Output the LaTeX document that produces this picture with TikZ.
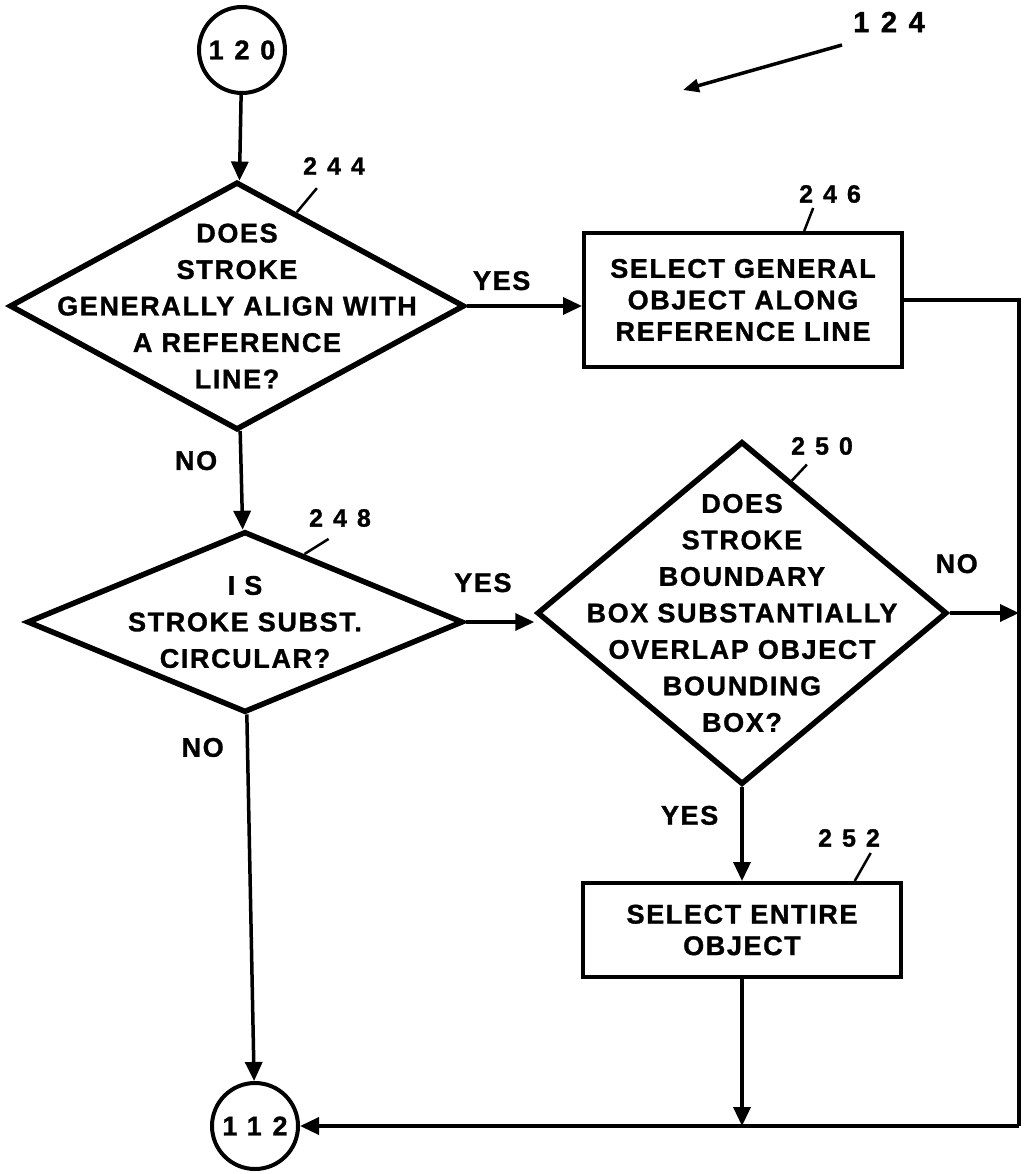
\documentclass[tikz,border=0pt]{standalone}
\usepackage{fontspec}
\setmainfont{Liberation Sans}[LetterSpace=6, BoldFeatures={FakeBold=1.2}]
\newfontfamily\digits{Liberation Sans}[LetterSpace=40, BoldFeatures={FakeBold=1.2}]
\usetikzlibrary{shapes.geometric, arrows.meta, positioning, calc}

\tikzset{
  every node/.style={font=\fontsize{27}{36.5}\selectfont\bfseries},
  decision/.style 2 args={diamond, draw, line width=5.5pt, inner sep=0pt,
    minimum width=#1, minimum height=#2},
  question/.style={align=center},
  process/.style={rectangle, draw, line width=4pt, minimum width=318pt,
    minimum height=#1, align=center, font=\fontsize{27}{31.5}\selectfont\bfseries},
  connector/.style={circle, draw, line width=4pt, minimum size=86pt, inner sep=0pt,
    font=\digits\fontsize{27}{27}\selectfont\bfseries},
  refnum/.style={font=\digits\fontsize{25}{25}\selectfont\bfseries},
  answer/.style={inner sep=2pt},
  flow/.style={->, line width=3.5pt},
  lead/.style={line width=2.5pt},
}

\begin{document}
\begin{tikzpicture}[x=1pt, y=-1pt, >={Triangle[length=19pt,width=17pt]}]
   \useasboundingbox (0,0) rectangle (1026,1174);

   \node[connector] (120) at (242,50) {120};
   \node[decision={455}{248},
     label={[question]center:{DOES\\STROKE\\GENERALLY ALIGN WITH\\A REFERENCE\\LINE?}}]
     (244) at (237,306) {};
   \node[process=134] (246) at (743,300) {SELECT GENERAL\\OBJECT ALONG\\REFERENCE LINE};
   \node[decision={436}{181},
     label={[question]center:{I S\\STROKE SUBST.\\CIRCULAR?}}]
     (248) at (245,622) {};
   \node[decision={410}{343},
     label={[question]center:{DOES\\STROKE\\BOUNDARY\\BOX SUBSTANTIALLY\\OVERLAP OBJECT\\BOUNDING\\BOX?}}]
     (250) at (742,613) {};
   \node[process=94] (252) at (742,930) {SELECT ENTIRE\\OBJECT};
   \node[connector] (112) at (255,1126) {112};

   % return line on the right
   \coordinate (tr) at (1019,300);
   \coordinate (br) at (1019,1126);

   \path[flow]
    (120) edge (244)
    (244.east) edge node[answer, pos=0.3, above=12pt] {YES} (244.east -| 246.west)
    (244) edge node[answer, pos=0.3, left=20pt] {NO} (248)
    (248.east) edge node[answer, pos=0.25, above=26pt] {YES} (248.east -| 250.west)
    (248) edge node[answer, pos=0.09, left=20pt] {NO} (112)
    (250.east) edge node[answer, pos=0.1, above=36pt] {NO} (250.east -| tr)
    (250) edge node[answer, pos=0.3, left=20pt] {YES} (252)
    (252.south) edge (252.south |- br)
    (br) edge (112);
   \draw[line width=3.5pt] (246) -- (tr) -- (br);

   % reference numerals
   \node[refnum] (n244) at (334,166) {244};
   \node[refnum] (n246) at (830,194) {246};
   \node[refnum] (n248) at (340,518) {248};
   \node[refnum] (n250) at (822,446) {250};
   \node[refnum] (n252) at (849,838) {252};
   \draw[lead] ($(244.north)!0.26!(244.east)$) -- ++(20,-24);
   \draw[lead] ($(246.north west)!0.69!(246.north east)$) -- ++(9,-23);
   \draw[lead] ($(248.north)!0.27!(248.east)$) -- ++(24,-15);
   \draw[lead] ($(250.north)!0.24!(250.east)$) -- ++(15,-16);
   \draw[lead] ($(252.north west)!0.85!(252.north east)$) -- ++(16,-28);

   \node[refnum, font=\digits\fontsize{29}{29}\selectfont\bfseries] (n124) at (889,22) {124};
   \coordinate (a124) at (842,45);
   \coordinate (b124) at (683,90);
   \draw[flow, >={Triangle[length=16pt,width=13pt]}] (a124) -- (b124);
\end{tikzpicture}
\end{document}
